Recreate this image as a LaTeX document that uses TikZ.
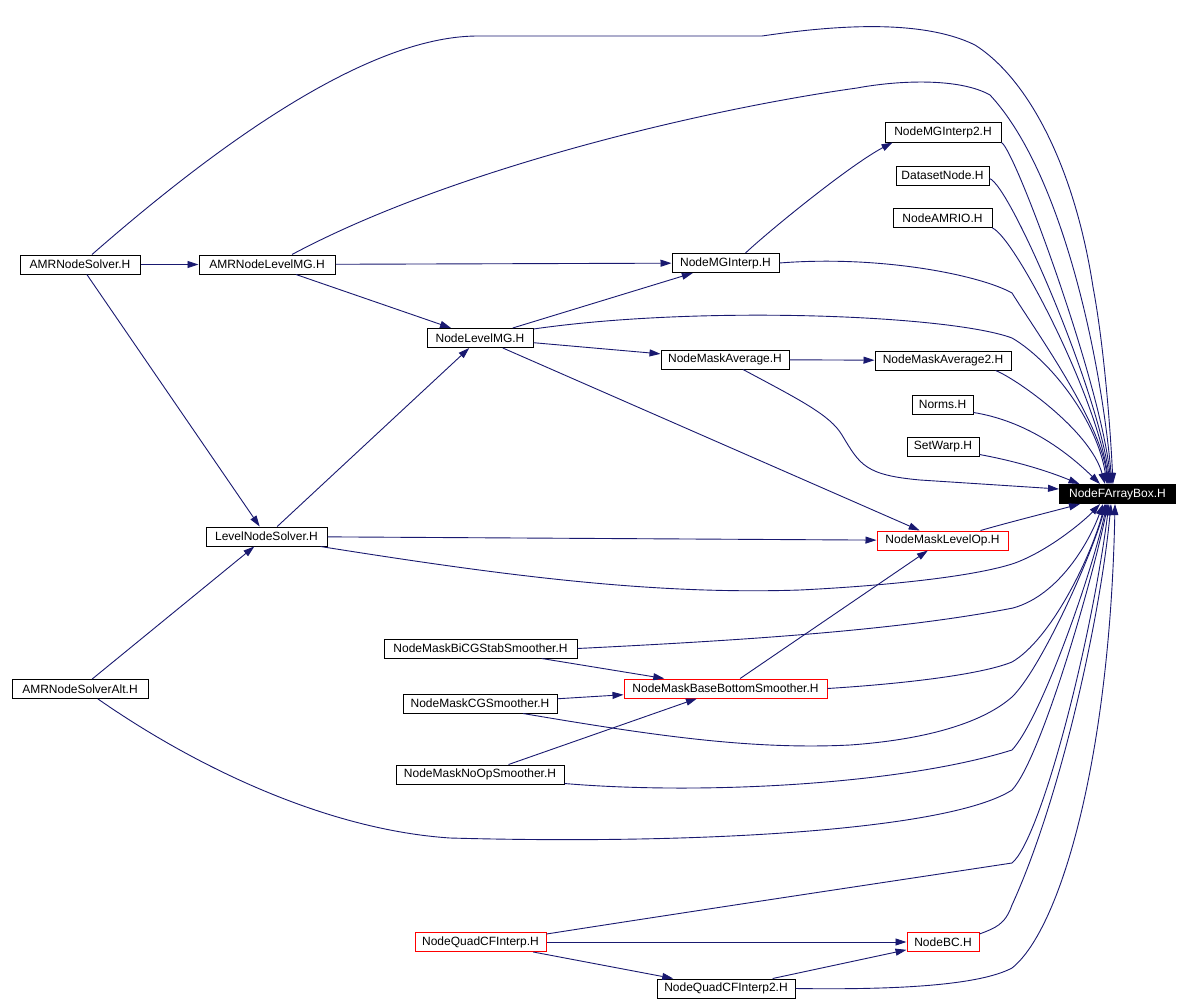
\documentclass[tikz,border=0pt]{standalone}
\usepackage{fontspec}
\setmainfont{Liberation Sans}
\usetikzlibrary{arrows.meta}
\definecolor{edgec}{RGB}{25,25,112}
\begin{document}
\begin{tikzpicture}[x=1pt,y=-1pt,
  box/.style={draw=black, line width=1pt, minimum height=19pt, inner sep=0pt, fill=white,
    font=\fontsize{12}{14}\selectfont},
  rbox/.style={box, draw=red},
  dep/.style={draw=edgec, line width=0.9pt, -{Triangle[length=11pt,width=7pt]}},
]
\fill[white] (0,0) rectangle (1189,1004);
\useasboundingbox (0,0) rectangle (1189,1004);

% nodes
\node[box, minimum width=120pt] (ans) at (80,264.5) {AMRNodeSolver.H};
\node[box, minimum width=136pt] (anlmg) at (267,264.5) {AMRNodeLevelMG.H};
\node[box, minimum width=107pt] (nmgi) at (725.5,263) {NodeMGInterp.H};
\node[box, minimum width=116pt, minimum height=20pt] (nmgi2) at (943,132) {NodeMGInterp2.H};
\node[box, minimum width=93pt] (dsn) at (942.5,175.5) {DatasetNode.H};
\node[box, minimum width=99pt] (amrio) at (942.5,218) {NodeAMRIO.H};
\node[box, minimum width=106pt] (nlmg) at (480,338) {NodeLevelMG.H};
\node[box, minimum width=128pt] (nma) at (725,359.5) {NodeMaskAverage.H};
\node[box, minimum width=136pt] (nma2) at (943,360.5) {NodeMaskAverage2.H};
\node[box, minimum width=61pt] (norms) at (942.5,404.5) {Norms.H};
\node[box, minimum width=72pt] (setwarp) at (943,446.5) {SetWarp.H};
\node[box, minimum width=116pt, fill=black, text=white] (nfab) at (1117.5,494) {NodeFArrayBox.H};
\node[rbox, minimum width=131pt] (nmlo) at (942.5,540.5) {NodeMaskLevelOp.H};
\node[box, minimum width=121pt] (lns) at (266.5,536.5) {LevelNodeSolver.H};
\node[box, minimum width=193pt] (bicg) at (480.5,648.5) {NodeMaskBiCGStabSmoother.H};
\node[rbox, minimum width=203pt] (nmbbs) at (725.5,688.5) {NodeMaskBaseBottomSmoother.H};
\node[box, minimum width=154pt] (cg) at (480,703.5) {NodeMaskCGSmoother.H};
\node[box, minimum width=168pt] (noop) at (480,774.5) {NodeMaskNoOpSmoother.H};
\node[box, minimum width=136pt] (ansalt) at (80,689) {AMRNodeSolverAlt.H};
\node[rbox, minimum width=131pt] (nqcf) at (480.5,942) {NodeQuadCFInterp.H};
\node[rbox, minimum width=72pt] (nbc) at (943,942) {NodeBC.H};
\node[box, minimum width=138pt] (nqcf2) at (726,988.5) {NodeQuadCFInterp2.H};

% straight dependencies
\draw[dep] (ans) -- (anlmg);
\draw[dep] (ans) -- (lns);
\draw[dep] (anlmg) -- (nmgi);
\draw[dep] (anlmg) -- (nlmg);
\draw[dep] ([xshift=20pt]nmgi.north) .. controls (770,230) and (850,165) .. ([xshift=8pt]nmgi2.south west);
\draw[dep] (nlmg) -- (nmgi);
\draw[dep] (nlmg) -- (nma);
\draw[dep] (nlmg) -- (nmlo);
\draw[dep] (nma) -- (nma2);
\draw[dep] (lns) -- (nlmg);
\draw[dep] (lns) -- (nmlo);
\draw[dep] (ansalt) -- (lns);
\draw[dep] (bicg) -- (nmbbs);
\draw[dep] (cg) -- (nmbbs);
\draw[dep] (noop) -- (nmbbs);
\draw[dep] (nmbbs) -- (nmlo);
\draw[dep] (nqcf) -- (nbc);
\draw[dep] (nqcf) -- (nqcf2);
\draw[dep] (nqcf2) -- (nbc);

% curves into NodeFArrayBox from above
\draw[dep] ([xshift=12pt]ans.north) .. controls (280,90) and (400,36) .. (478,36) -- (762,36)
  .. controls (830,26) and (920,18) .. (975,45) .. controls (1030,80) and (1075,170) .. (1093,287)
  .. controls (1103,340) and (1110,420) .. ([xshift=-4.5pt]nfab.north);
\draw[dep] ([xshift=25pt]anlmg.north) .. controls (450,170) and (700,110) .. (857,88)
  .. controls (900,80) and (960,78) .. (990,95) .. controls (1060,170) and (1100,350) .. ([xshift=-5.5pt]nfab.north);
\draw[dep] (nmgi2.south east) .. controls (1015,150) and (1100,380) .. ([xshift=-6.5pt]nfab.north);
\draw[dep] ([yshift=-3pt]dsn.east) .. controls (1010,185) and (1098,390) .. ([xshift=-7.5pt]nfab.north);
\draw[dep] (amrio.south east) .. controls (1015,238) and (1096,395) .. ([xshift=-8.5pt]nfab.north);
\draw[dep] (nmgi.east) .. controls (880,255) and (980,275) .. (1012,293)
  .. controls (1035,330) and (1100,420) .. ([xshift=-9.5pt]nfab.north);
\draw[dep] ([yshift=-1pt]nlmg.north east) .. controls (700,305) and (950,315) .. (1012,338)
  .. controls (1050,360) and (1097,420) .. ([xshift=-10.5pt]nfab.north);
\draw[dep] ([xshift=-16pt]nma2.south east) .. controls (1015,378) and (1090,430) .. ([xshift=-12.5pt]nfab.north);
\draw[dep] ([yshift=2pt]norms.south east) .. controls (1020,420) and (1060,445) .. ([xshift=-17.5pt]nfab.north);
\draw[dep] ([yshift=2pt]setwarp.south east) .. controls (1020,462) and (1050,472) .. ([xshift=-38pt]nfab.north);
\draw[dep] ([xshift=18pt]nma.south) .. controls (800,400) and (830,415) .. (842,435)
  .. controls (860,465) and (865,475) .. (920,480) -- ([yshift=5pt]nfab.west);

% curves into NodeFArrayBox from below
\draw[dep] ([xshift=-28pt]nmlo.north east) .. controls (1010,522) and (1050,512) .. ([xshift=-37.5pt]nfab.south);
\draw[dep] ([xshift=-7pt]lns.south east) .. controls (500,575) and (650,595) .. (800,590)
  .. controls (900,585) and (980,575) .. (1015,563) .. controls (1050,550) and (1085,520) .. ([xshift=-17.5pt]nfab.south);
\draw[dep] (bicg.east) .. controls (750,640) and (900,630) .. (1013,608)
  .. controls (1060,595) and (1090,540) .. ([xshift=-14.5pt]nfab.south);
\draw[dep] (nmbbs.east) .. controls (900,684) and (980,675) .. (1012,662)
  .. controls (1050,640) and (1090,560) .. ([xshift=-12.5pt]nfab.south);
\draw[dep] ([xshift=43pt]cg.south) .. controls (650,735) and (750,750) .. (850,745)
  .. controls (920,740) and (980,725) .. (1012,697) .. controls (1040,670) and (1090,560) .. ([xshift=-11.5pt]nfab.south);
\draw[dep] ([yshift=1pt]noop.south east) .. controls (700,795) and (900,785) .. (1012,750)
  .. controls (1040,720) and (1090,580) .. ([xshift=-10.5pt]nfab.south);
\draw[dep] ([xshift=18pt]ansalt.south) .. controls (200,770) and (330,830) .. (450,838)
  .. controls (700,845) and (950,830) .. (1012,790) .. controls (1040,760) and (1090,590) .. ([xshift=-9.5pt]nfab.south);
\draw[dep] ([yshift=-2pt]nqcf.north east) .. controls (700,910) and (900,880) .. (1012,863)
  .. controls (1040,840) and (1090,650) .. ([xshift=-8.5pt]nfab.south);
\draw[dep] ([yshift=-2pt]nbc.north east) .. controls (995,928) and (1005,925) .. (1012,905)
  .. controls (1060,800) and (1100,620) .. ([xshift=-6.5pt]nfab.south);
\draw[dep] (nqcf2.east) .. controls (900,990) and (980,985) .. (1012,968)
  .. controls (1060,930) and (1110,760) .. ([xshift=-2.5pt]nfab.south);
\end{tikzpicture}
\end{document}
